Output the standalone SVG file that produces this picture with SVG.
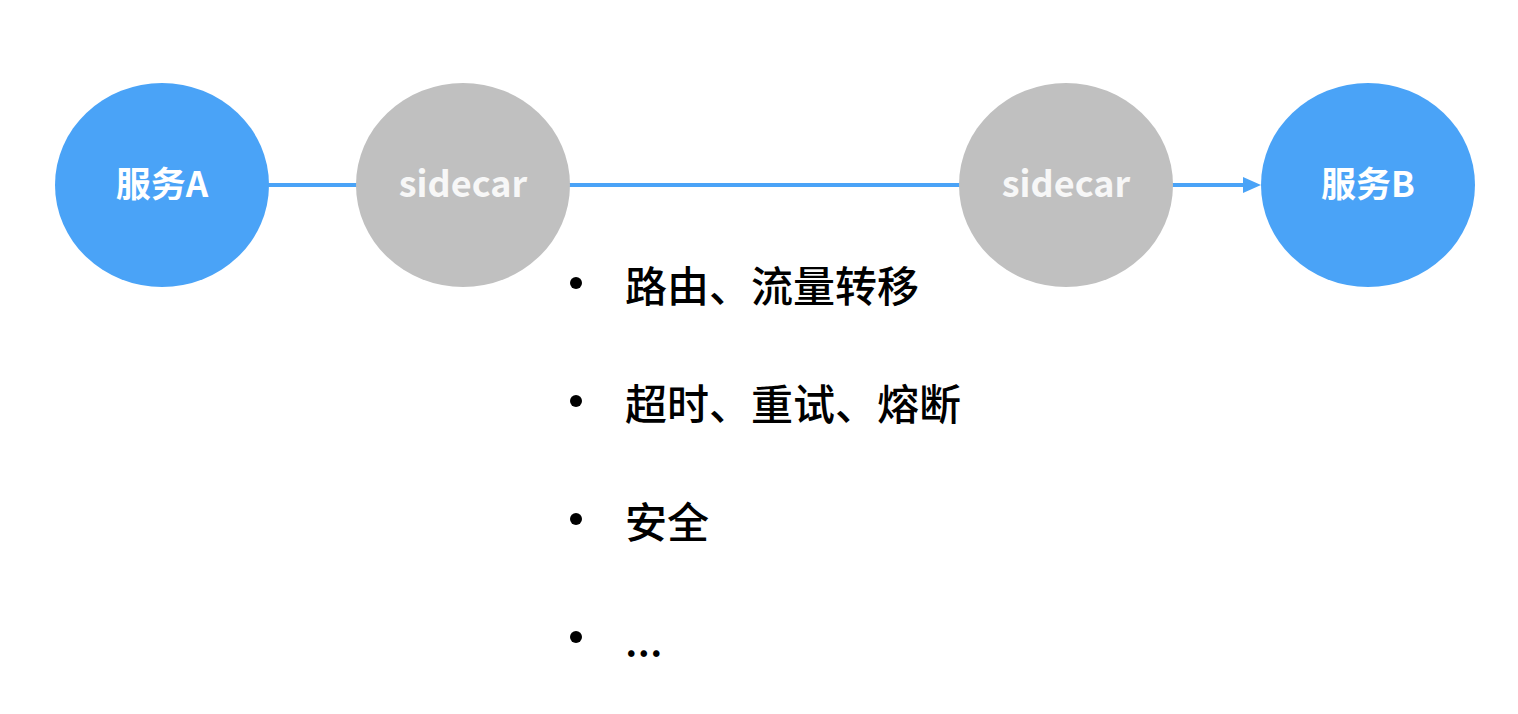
<svg xmlns="http://www.w3.org/2000/svg" width="1518" height="714" viewBox="0 0 1518 714">
<style>
.svc{fill:#4aa3f7}
.sc{fill:#c0c0c0}
.lbl{font-family:"Noto Sans CJK SC","Noto Sans",sans-serif;font-weight:bold;font-size:35px;fill:#ffffff;text-anchor:middle}
.sl{font-size:36px;fill:#f7f7f7}
.item{font-family:"Noto Sans CJK SC","Noto Sans",sans-serif;font-weight:500;font-size:42px;fill:#000}
.dot{fill:#000}
.link{stroke:#4aa3f7;stroke-width:4;fill:none}
</style>
<g id="connectors">
<line class="link" x1="268" y1="185" x2="358" y2="185"/>
<line class="link" x1="569" y1="185" x2="961" y2="185"/>
<path d="M1172,185 L1244,185" class="link"/>
<path d="M1243,177 L1261,185 L1243,193 z" fill="#4aa3f7"/>
</g>
<g id="serviceA">
<ellipse class="svc" cx="162" cy="185" rx="107" ry="102"/>
<text class="lbl" x="162" y="197">服务A</text>
</g>
<g id="sidecar1">
<ellipse class="sc" cx="463" cy="185" rx="107" ry="102"/>
<text class="lbl sl" x="463" y="197">sidecar</text>
</g>
<g id="sidecar2">
<ellipse class="sc" cx="1066" cy="185" rx="107" ry="102"/>
<text class="lbl sl" x="1066" y="197">sidecar</text>
</g>
<g id="serviceB">
<ellipse class="svc" cx="1368" cy="185" rx="107" ry="102"/>
<text class="lbl" x="1368" y="197">服务B</text>
</g>
<g id="features">
<circle class="dot" cx="576" cy="283" r="6"/>
<text class="item" x="625" y="302">路由、流量转移</text>
<circle class="dot" cx="576" cy="401" r="6"/>
<text class="item" x="625" y="420">超时、重试、熔断</text>
<circle class="dot" cx="576" cy="519" r="6"/>
<text class="item" x="625" y="538">安全</text>
<circle class="dot" cx="576" cy="637" r="6"/>
<text class="item" x="625" y="656">...</text>
</g>
</svg>
